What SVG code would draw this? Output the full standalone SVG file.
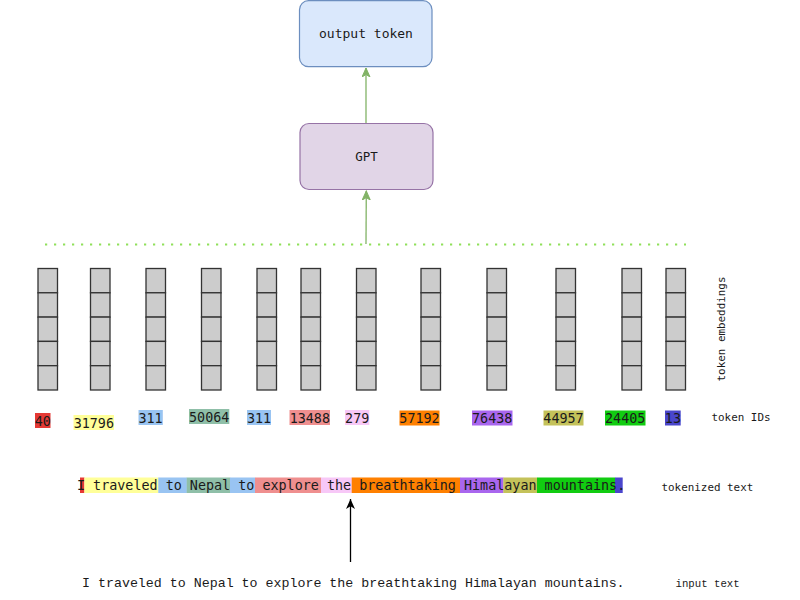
<svg xmlns="http://www.w3.org/2000/svg" width="800" height="600" viewBox="0 0 800 600">
<defs>
<style>
.mono{font-family:"DejaVu Sans Mono","Liberation Mono",monospace;fill:#1a1a1a}
.id{font-size:13.4px;text-anchor:middle}
.lbl{font-size:10.9px}
.cell{fill:#cccccc;stroke:#333333;stroke-width:1.3}
.g{stroke:#82b366;stroke-width:1.3;fill:none}
</style>
<marker id="ag" markerWidth="10" markerHeight="10" refX="9" refY="4" orient="auto" markerUnits="userSpaceOnUse">
<path d="M0,0 L9,4 L0,8 L2.5,4 Z" fill="#82b366" stroke="#82b366" stroke-width="1"/>
</marker>
<marker id="ak" markerWidth="12" markerHeight="10" refX="10" refY="4.5" orient="auto" markerUnits="userSpaceOnUse">
<path d="M0,0 L10,4.5 L0,9 L2.8,4.5 Z" fill="#000000"/>
</marker>
<g id="col">
<rect class="cell" x="0" y="268.5" width="19.5" height="24.3"/>
<rect class="cell" x="0" y="292.8" width="19.5" height="24.3"/>
<rect class="cell" x="0" y="317.1" width="19.5" height="24.3"/>
<rect class="cell" x="0" y="341.4" width="19.5" height="24.3"/>
<rect class="cell" x="0" y="365.7" width="19.5" height="24.3"/>
</g>
</defs>
<rect width="800" height="600" fill="#ffffff"/>

<g id="output-token">
<rect x="299.5" y="0.7" width="132.5" height="66" rx="9" fill="#dae8fc" stroke="#6c8ebf" stroke-width="1.2"/>
<text class="mono" x="366" y="38" font-size="13" text-anchor="middle">output token</text>
</g>

<g id="gpt">
<rect x="300" y="123.5" width="133" height="66" rx="9" fill="#e1d5e7" stroke="#9673a6" stroke-width="1.2"/>
<text class="mono" x="366.5" y="161" font-size="12.5" text-anchor="middle">GPT</text>
</g>

<g id="embeddings">
<use href="#col" x="38"/>
<use href="#col" x="90.5"/>
<use href="#col" x="146"/>
<use href="#col" x="201.5"/>
<use href="#col" x="257"/>
<use href="#col" x="301"/>
<use href="#col" x="356.5"/>
<use href="#col" x="421"/>
<use href="#col" x="487"/>
<use href="#col" x="556"/>
<use href="#col" x="622"/>
<use href="#col" x="666"/>
<text class="mono lbl" transform="translate(724.5,329) rotate(-90)" text-anchor="middle">token embeddings</text>
</g>

<g id="token-ids">
<rect x="35" y="413" width="15.5" height="15" fill="#e53935"/>
<text class="mono id" x="42.8" y="425.5">40</text>
<rect x="73.5" y="415" width="40.5" height="15" fill="#ffff99"/>
<text class="mono id" x="93.8" y="427.5">31796</text>
<rect x="138.5" y="410" width="24.3" height="15" fill="#99c4f2"/>
<text class="mono id" x="150.6" y="422.5">311</text>
<rect x="189" y="409" width="40.3" height="15" fill="#8fbfa8"/>
<text class="mono id" x="209.2" y="421.5">50064</text>
<rect x="247" y="410" width="24" height="15" fill="#99c4f2"/>
<text class="mono id" x="259" y="422.5">311</text>
<rect x="289.5" y="410" width="40.5" height="15" fill="#ef8f8f"/>
<text class="mono id" x="309.8" y="422.5">13488</text>
<rect x="345" y="410" width="24.3" height="15" fill="#f7c8f7"/>
<text class="mono id" x="357.2" y="422.5">279</text>
<rect x="399.5" y="410.5" width="40" height="15" fill="#ff8000"/>
<text class="mono id" x="419.5" y="423">57192</text>
<rect x="472" y="410.5" width="40.5" height="15" fill="#a966ee"/>
<text class="mono id" x="492.2" y="423">76438</text>
<rect x="543.5" y="410.5" width="40" height="15" fill="#c4c25a"/>
<text class="mono id" x="563.5" y="423">44957</text>
<rect x="605" y="410.5" width="40.5" height="15" fill="#11cc11"/>
<text class="mono id" x="625.2" y="423">24405</text>
<rect x="665" y="410.5" width="15.7" height="15" fill="#4a46cc"/>
<text class="mono id" x="672.9" y="423">13</text>
<text class="mono lbl" x="711.5" y="421">token IDs</text>
</g>

<g id="tokenized-text">
<rect x="80" y="477.5" width="4.5" height="15.5" fill="#e53935"/>
<rect x="84.3" y="477.5" width="74.2" height="15.5" fill="#ffff99"/>
<rect x="158.3" y="477.5" width="28.6" height="15.5" fill="#99c4f2"/>
<rect x="186.7" y="477.5" width="43.5" height="15.5" fill="#8fbfa8"/>
<rect x="230" y="477.5" width="25.2" height="15.5" fill="#99c4f2"/>
<rect x="255" y="477.5" width="66.2" height="15.5" fill="#ef8f8f"/>
<rect x="321" y="477.5" width="30.9" height="15.5" fill="#f7c8f7"/>
<rect x="351.7" y="477.5" width="108.5" height="15.5" fill="#ff8000"/>
<rect x="460" y="477.5" width="43.5" height="15.5" fill="#a966ee"/>
<rect x="503.3" y="477.5" width="33.9" height="15.5" fill="#c4c25a"/>
<rect x="537" y="477.5" width="78.2" height="15.5" fill="#11cc11"/>
<rect x="615" y="477.5" width="7.7" height="15.5" fill="#4a46cc"/>
<text class="mono" x="77" y="489.5" font-size="13.4">I traveled to Nepal to explore the breathtaking Himalayan mountains.</text>
<text class="mono lbl" x="661.5" y="491">tokenized text</text>
</g>

<g id="input-text">
<text x="82" y="587" font-family="'Liberation Mono','DejaVu Sans Mono',monospace" font-size="13.3" fill="#1a1a1a">I traveled to Nepal to explore the breathtaking Himalayan mountains.</text>
<text x="675.5" y="587" font-family="'Liberation Mono','DejaVu Sans Mono',monospace" font-size="10.7" fill="#1a1a1a">input text</text>
</g>

<g id="connectors">
<line x1="45" y1="244.5" x2="686" y2="244.5" stroke="#8fe05a" stroke-width="2.2" stroke-dasharray="2.2 6.8"/>
<line class="g" x1="366" y1="244" x2="366.3" y2="191" marker-end="url(#ag)"/>
<line class="g" x1="366" y1="123" x2="366" y2="68" marker-end="url(#ag)"/>
<line x1="350.5" y1="562" x2="350.5" y2="499" stroke="#000000" stroke-width="1.3" marker-end="url(#ak)"/>
</g>
</svg>
